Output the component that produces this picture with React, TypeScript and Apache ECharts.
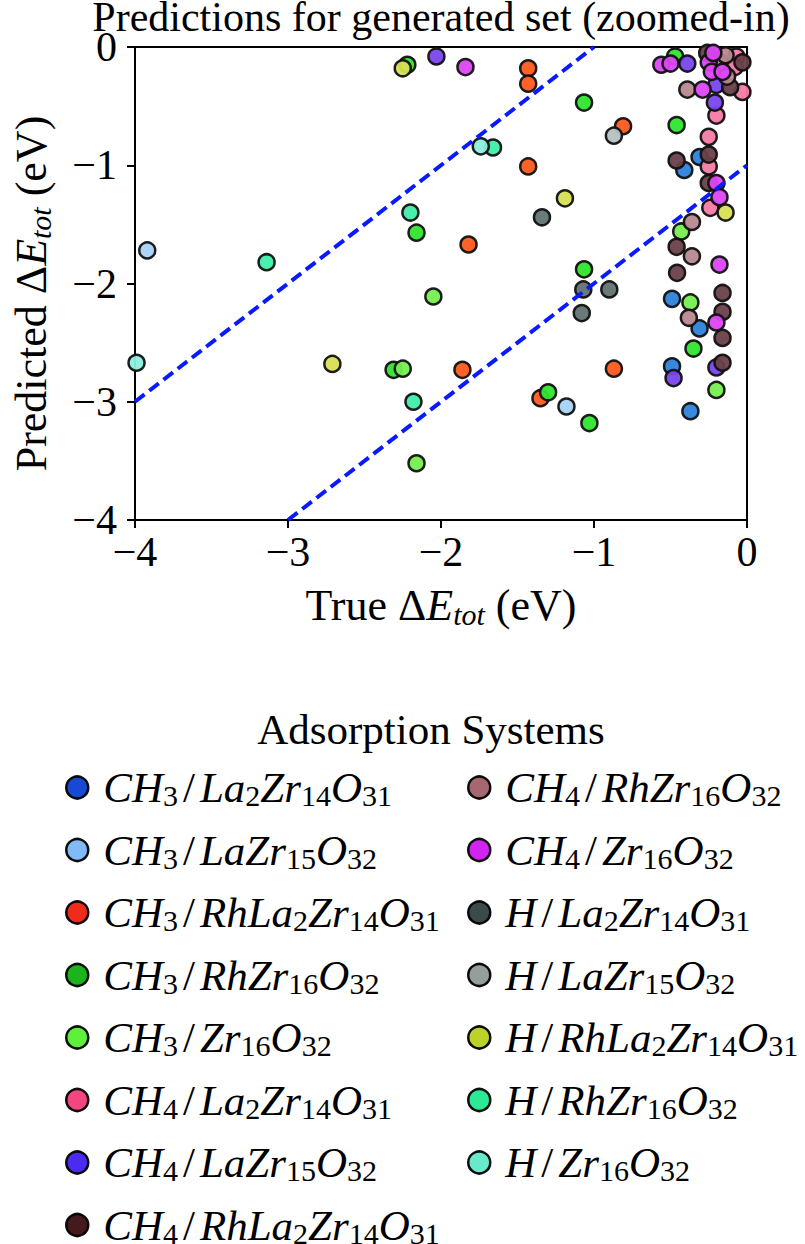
import React, { useEffect, useRef } from "react";
import * as echarts from "echarts";

const names = [
  "CH3/La2Zr14O31",
  "CH3/LaZr15O32",
  "CH3/RhLa2Zr14O31",
  "CH3/RhZr16O32",
  "CH3/Zr16O32",
  "CH4/La2Zr14O31",
  "CH4/LaZr15O32",
  "CH4/RhLa2Zr14O31",
  "CH4/RhZr16O32",
  "CH4/Zr16O32",
  "H/La2Zr14O31",
  "H/LaZr15O32",
  "H/RhLa2Zr14O31",
  "H/RhZr16O32",
  "H/Zr16O32",
];

const plotColors = [
  "#2d82dc", "#a6d2f6", "#ff5a1c", "#2ee52e", "#76ee50",
  "#f57aa6", "#7a46ee", "#6a4048", "#b88890", "#dc46f4",
  "#627272", "#b8c0c0", "#d6e252", "#40eeaa", "#8cf0dc",
];

const legendColors = [
  "#0b3fd0", "#7ab6f7", "#f02010", "#10b010", "#55f030",
  "#f03c78", "#4020f0", "#3a0e12", "#a06068", "#d018f0",
  "#304040", "#909898", "#b8d020", "#20e890", "#60e8c8",
];

const ch3La2Zr14O31 = [[-0.31, -0.93], [-0.41, -1.04], [-0.49, -2.13], [-0.31, -2.38], [-0.49, -2.7], [-0.37, -3.08]];
const ch3LaZr15O32 = [[-3.92, -1.72], [-1.18, -3.04]];
const ch3RhLa2Zr14O31 = [[-1.43, -0.18], [-1.43, -0.31], [-0.81, -0.67], [-1.43, -1.01], [-1.82, -1.67], [-1.86, -2.73], [-0.87, -2.72], [-1.35, -2.97]];
const ch3RhZr16O32 = [[-2.31, -2.73], [-1.3, -2.92], [-2.22, -0.15], [-1.065, -0.47], [-1.065, -1.88], [-1.03, -3.18], [-0.46, -0.66], [-0.35, -2.55], [-2.16, -1.57], [-0.47, -0.08]];
const ch3Zr16O32 = [[-2.25, -2.72], [-2.05, -2.11], [-2.16, -3.52], [-0.37, -2.16], [-0.43, -1.56], [-0.2, -2.9]];
const ch4La2Zr14O31 = [[-0.25, -0.76], [-0.25, -1.01], [-0.24, -1.36], [-0.2, -0.58], [-0.03, -0.38], [-0.07, -0.08], [-0.08, -0.17]];
const ch4LaZr15O32 = [[-2.03, -0.08], [-0.48, -2.8], [-0.2, -2.71], [-0.39, -0.14], [-0.21, -0.47], [-0.2, -0.32]];
const ch4RhLa2Zr14O31 = [[-0.46, -0.96], [-0.46, -1.69], [-0.457, -1.91], [-0.16, -2.08], [-0.16, -2.24], [-0.16, -2.46], [-0.16, -2.67], [-0.25, -1.15], [-0.25, -0.91], [-0.11, -0.34], [-0.26, -0.05], [-0.03, -0.13]];
const ch4RhZr16O32 = [[-0.36, -1.48], [-0.36, -1.77], [-0.38, -2.29], [-0.39, -0.36], [-0.13, -0.25], [-0.18, -0.13], [-0.14, -0.07]];
const ch4Zr16O32 = [[-1.84, -0.17], [-0.2, -1.15], [-0.18, -1.27], [-0.2, -2.33], [-0.18, -1.84], [-0.56, -0.15], [-0.5, -0.14], [-0.25, -0.13], [-0.29, -0.36], [-0.23, -0.21], [-0.16, -0.21], [-0.22, -0.05]];
const hLa2Zr14O31 = [[-1.34, -1.44], [-1.07, -2.05], [-1.08, -2.25], [-0.9, -2.05]];
const hLaZr15O32 = [[-0.87, -0.75]];
const hRhLa2Zr14O31 = [[-2.71, -2.68], [-1.19, -1.28], [-0.14, -1.4], [-2.25, -0.18]];
const hRhZr16O32 = [[-3.14, -1.82], [-2.2, -1.4], [-2.18, -3.0], [-1.66, -0.85]];
const hZr16O32 = [[-3.99, -2.67], [-1.74, -0.84]];

const seriesData = [
  ch3La2Zr14O31, ch3LaZr15O32, ch3RhLa2Zr14O31, ch3RhZr16O32, ch3Zr16O32,
  ch4La2Zr14O31, ch4LaZr15O32, ch4RhLa2Zr14O31, ch4RhZr16O32, ch4Zr16O32,
  hLa2Zr14O31, hLaZr15O32, hRhLa2Zr14O31, hRhZr16O32, hZr16O32,
];

const upperBound = [[-4, -3], [-1, 0]];
const lowerBound = [[-3, -4], [0, -1]];

const axisTicks = [-4, -3, -2, -1, 0];

const SERIF = "'Liberation Serif', 'Times New Roman', serif";

function formula(name: string): string {
  const parts = name.match(/[A-Za-z]+|\d+|\//g) || [];
  return parts
    .map((p) => {
      if (/^\d+$/.test(p)) return `{s|${p}}`;
      if (p === "/") return `{n|/}`;
      return `{i|${p}}`;
    })
    .join("");
}

const legendRich = {
  i: { fontFamily: SERIF, fontStyle: "italic", fontSize: 43, lineHeight: 46, color: "#000" },
  n: { fontFamily: SERIF, fontSize: 43, lineHeight: 46, color: "#000", padding: [0, 5, 0, 5] },
  s: { fontFamily: SERIF, fontSize: 30, lineHeight: 30, color: "#000", verticalAlign: "bottom" },
};

const axisRich = {
  n: { fontFamily: SERIF, fontSize: 44, lineHeight: 48, color: "#000" },
  i: { fontFamily: SERIF, fontStyle: "italic", fontSize: 44, lineHeight: 48, color: "#000" },
  s: { fontFamily: SERIF, fontStyle: "italic", fontSize: 30, lineHeight: 30, color: "#000", verticalAlign: "bottom" },
};

const tickFmt = (v: number) => (v === 0 ? "0" : "\u2212" + Math.abs(v));

export default function App() {
  const ref = useRef<HTMLDivElement>(null);
  useEffect(() => {
    if (!ref.current) return;
    const chart = echarts.init(ref.current, undefined, { renderer: "svg" });
    const scatterSeries = names.map((n, i) => ({
      type: "scatter",
      name: n,
      data: seriesData[i],
      symbol: "circle",
      symbolSize: 16,
      itemStyle: { color: plotColors[i], borderColor: "#111", borderWidth: 2.5, opacity: 0.95 },
      z: 2,
    }));
    const lineStyle = { color: "#0a1aff", width: 4, type: [12, 6] };
    const legendBase = {
      orient: "vertical",
      padding: 0,
      height: 520,
      itemWidth: 22,
      itemHeight: 22,
      itemGap: 18,
      icon: "circle",
      selectedMode: false,
      itemStyle: { borderColor: "#000", borderWidth: 2.5 },
      textStyle: { padding: [0, 0, 0, 10], rich: legendRich },
      formatter: formula,
    };
    const legendItems = (from: number, to: number) =>
      names.slice(from, to).map((n, k) => ({ name: n, itemStyle: { color: legendColors[from + k] } }));
    chart.setOption({
      animation: false,
      grid: { left: 135, top: 47, width: 612, height: 473, show: true, borderColor: "#000", borderWidth: 2, backgroundColor: "transparent" },
      xAxis: {
        type: "value",
        min: axisTicks[0],
        max: axisTicks[axisTicks.length - 1],
        interval: 1,
        splitLine: { show: false },
        axisLine: { onZero: false, lineStyle: { color: "#000", width: 2 } },
        axisTick: { inside: false, length: 8, lineStyle: { color: "#000", width: 2 } },
        axisLabel: { formatter: tickFmt, fontFamily: SERIF, fontSize: 42, lineHeight: 26, color: "#000", margin: 19 },
        name: "{n|True Δ}{i|E}{s|tot}{n| (eV)}",
        nameLocation: "middle",
        nameGap: 61,
        nameTextStyle: { rich: axisRich },
      },
      yAxis: {
        type: "value",
        min: axisTicks[0],
        max: axisTicks[axisTicks.length - 1],
        interval: 1,
        splitLine: { show: false },
        axisLine: { onZero: false, lineStyle: { color: "#000", width: 2 } },
        axisTick: { inside: false, length: 8, lineStyle: { color: "#000", width: 2 } },
        axisLabel: { formatter: tickFmt, fontFamily: SERIF, fontSize: 42, lineHeight: 26, color: "#000", margin: 18 },
        name: "{n|Predicted Δ}{i|E}{s|tot}{n| (eV)}",
        nameLocation: "middle",
        nameGap: 80,
        nameTextStyle: { rich: axisRich, padding: [0, 20, 0, 0] },
      },
      legend: [
        { ...legendBase, left: 65, top: 766, data: legendItems(0, 8) },
        { ...legendBase, left: 467, top: 766, data: legendItems(8, 15) },
      ],
      graphic: [
        {
          type: "text",
          x: 441,
          y: 2,
          style: {
            text: "Predictions for generated set (zoomed-in)",
            fontFamily: SERIF,
            fontSize: 42,
            lineHeight: 30,
            fill: "#000",
            align: "center",
            verticalAlign: "top",
            textAlign: "center",
            textVerticalAlign: "top",
          },
        },
        {
          type: "text",
          x: 431,
          y: 729,
          style: {
            text: "Adsorption Systems",
            fontFamily: SERIF,
            fontSize: 43,
            fill: "#000",
            align: "center",
            verticalAlign: "middle",
            textAlign: "center",
            textVerticalAlign: "middle",
          },
        },
      ],
      series: [
        ...scatterSeries,
        { type: "line", name: "upper", data: upperBound, symbol: "none", lineStyle, z: 5, silent: true },
        { type: "line", name: "lower", data: lowerBound, symbol: "none", lineStyle, z: 5, silent: true },
      ],
    });
    return () => chart.dispose();
  }, []);
  return <div ref={ref} style={{ position: "fixed", left: 0, top: 0, width: 805, height: 1244, background: "#fff" }} />;
}
